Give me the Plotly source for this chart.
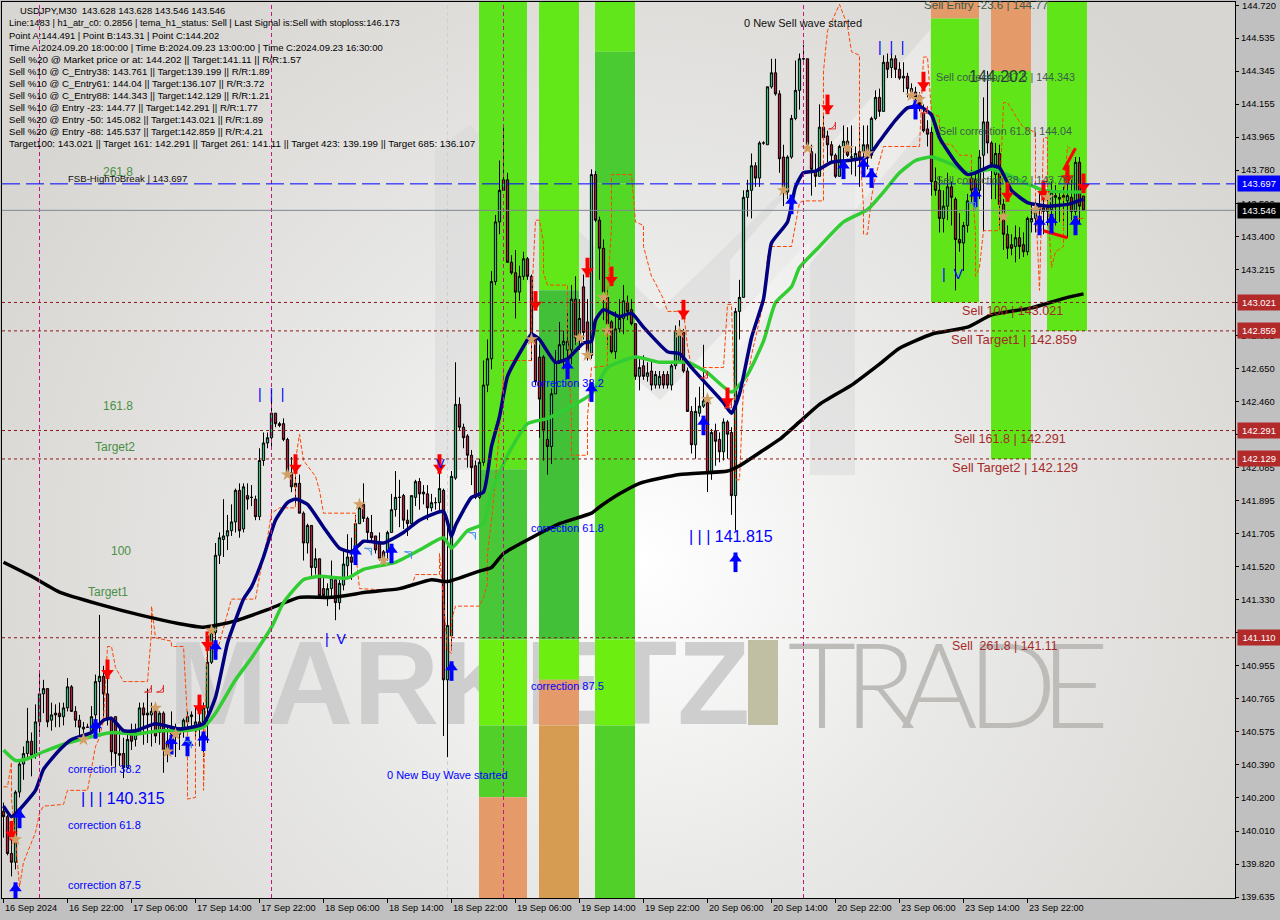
import base64
import plotly.graph_objects as go

opens = [140.12,140.09,139.88,139.83,140.23,140.39,140.45,140.52,140.44,140.63,
140.79,140.82,140.64,140.68,140.68,140.66,140.71,140.83,140.69,140.64,
140.59,140.60,140.58,140.67,140.86,140.89,140.79,140.65,140.66,140.45,
140.45,140.37,140.58,140.53,140.57,140.71,140.68,140.67,140.69,140.57,
140.68,140.52,140.56,140.60,140.58,140.58,140.63,140.66,140.60,140.63,
140.63,140.71,140.97,141.14,141.58,141.67,141.69,141.72,141.77,141.95,
141.73,141.92,141.91,141.90,141.80,142.12,142.22,142.25,142.39,142.33,
142.33,142.24,142.05,141.97,141.99,141.82,141.65,141.75,141.51,141.56,
141.39,141.34,141.39,141.44,141.31,141.41,141.52,141.57,141.54,141.76,
141.87,141.79,141.71,141.69,141.65,141.60,141.60,141.71,141.84,141.91,
141.92,141.78,141.76,141.91,142.00,141.94,141.93,141.85,141.88,141.88,
141.95,140.87,141.12,142.02,142.44,142.31,142.26,142.15,142.09,141.91,
142.11,142.55,142.70,143.14,143.48,143.66,143.72,143.25,143.19,143.08,
143.17,143.27,143.17,142.81,142.71,142.71,142.24,142.20,142.50,142.68,
142.78,142.75,142.75,143.04,142.82,143.11,142.91,142.72,143.75,143.49,
143.33,143.05,142.91,142.74,142.87,142.93,143.02,142.98,142.90,142.60,
142.66,142.60,142.63,142.55,142.55,142.61,142.61,142.55,142.66,142.69,
142.85,142.63,142.40,142.21,142.39,142.43,142.45,142.05,142.29,142.24,
142.17,142.34,142.28,141.92,142.97,143.05,143.62,143.66,143.80,143.73,
143.93,143.92,144.25,144.33,144.21,143.85,143.65,143.85,144.07,144.23,
144.41,144.41,143.88,143.77,143.74,144.02,143.97,143.92,143.86,143.74,
143.91,143.94,143.85,143.84,143.88,143.88,143.92,143.86,144.07,144.19,
144.11,144.39,144.36,144.41,144.35,144.30,144.31,144.24,144.22,144.20,
144.10,144.01,143.99,143.71,143.66,143.50,143.57,143.68,143.61,143.38,
143.36,143.46,143.73,143.72,143.66,143.86,144.05,143.93,143.75,143.87,
143.58,143.41,143.35,143.34,143.39,143.35,143.31,143.48,143.50,143.55,
143.56,143.54,143.55,143.62,143.61,143.62,143.60,143.62,143.54,143.82,
143.628]
highs = [140.17,140.10,139.96,140.24,140.41,140.49,140.71,140.57,140.73,140.91,
140.87,140.82,140.74,140.73,140.74,140.74,140.88,140.84,140.72,140.67,
140.63,140.62,140.72,140.90,141.24,140.95,140.94,140.66,140.66,140.60,
140.54,140.57,140.62,140.62,140.74,140.74,140.82,140.74,140.72,140.69,
140.69,140.61,140.69,140.62,140.60,140.65,140.69,140.69,140.71,140.74,
140.74,141.07,141.17,141.65,141.71,141.90,141.81,141.87,141.96,141.99,
141.99,141.99,141.98,141.92,142.19,142.28,142.28,142.47,142.39,142.34,
142.36,142.25,142.14,142.03,142.04,141.83,141.76,141.75,141.62,141.56,
141.45,141.42,141.55,141.45,141.44,141.61,141.70,141.68,141.81,141.90,
141.99,141.80,141.81,141.69,141.71,141.61,141.72,141.93,142.06,142.01,
141.93,141.84,141.92,142.01,142.02,141.98,141.98,141.93,141.91,142.06,
141.96,141.74,142.06,142.68,142.48,142.33,142.27,142.18,142.12,142.13,
142.69,142.81,143.20,143.52,143.83,144.03,143.76,143.29,143.32,143.23,
143.31,143.28,143.18,142.82,142.78,142.72,142.35,142.53,142.75,142.91,
142.86,142.98,143.12,143.17,143.04,143.18,143.04,143.78,143.77,143.51,
143.38,143.09,142.92,142.97,143.04,143.12,143.06,143.04,142.90,142.71,
142.72,142.68,142.69,142.63,142.63,142.63,142.63,142.67,142.89,142.92,
142.87,142.65,142.43,142.48,142.54,142.78,142.48,142.30,142.33,142.28,
142.36,142.35,142.31,142.99,143.15,143.66,143.72,143.87,143.82,143.94,
143.94,144.25,144.41,144.41,144.23,143.92,143.86,144.09,144.40,144.44,
144.49,144.41,143.92,143.87,144.15,144.10,144.00,143.94,143.87,143.92,
144.03,144.02,144.03,143.91,144.02,144.03,144.03,144.08,144.23,144.24,
144.43,144.44,144.44,144.43,144.39,144.39,144.33,144.27,144.25,144.22,
144.15,144.06,144.02,143.79,143.74,143.66,143.76,143.71,143.62,143.53,
143.48,143.64,143.78,143.77,143.89,144.19,144.34,143.94,143.93,143.92,
143.61,143.46,143.41,143.46,143.45,143.42,143.51,143.58,143.60,143.66,
143.63,143.63,143.71,143.69,143.66,143.68,143.70,143.72,143.85,143.85,
143.628]
lows = [139.97,139.87,139.75,139.79,140.20,140.30,140.43,140.32,140.42,140.57,
140.68,140.60,140.58,140.60,140.60,140.61,140.69,140.69,140.60,140.54,
140.54,140.60,140.57,140.61,140.57,140.66,140.61,140.38,140.37,140.38,
140.31,140.36,140.47,140.49,140.57,140.50,140.51,140.49,140.51,140.50,
140.34,140.40,140.49,140.43,140.47,140.54,140.57,140.60,140.53,140.49,
140.43,140.51,140.96,141.07,141.53,141.57,141.61,141.69,141.71,141.68,
141.71,141.84,141.86,141.78,141.78,142.09,142.19,142.18,142.31,142.31,
142.23,142.04,141.94,141.87,141.82,141.55,141.59,141.46,141.47,141.34,
141.33,141.29,141.34,141.21,141.27,141.38,141.46,141.44,141.54,141.76,
141.77,141.65,141.65,141.59,141.55,141.54,141.55,141.71,141.80,141.74,
141.73,141.69,141.74,141.86,141.84,141.87,141.78,141.83,141.84,141.83,
140.55,140.43,141.06,142.01,142.29,142.19,142.08,141.98,141.90,141.90,
142.09,142.51,142.64,143.12,143.41,143.66,143.25,143.18,142.93,143.03,
143.15,143.15,142.69,142.55,142.25,142.12,142.04,142.10,142.50,142.67,
142.64,142.69,142.67,142.78,142.75,142.81,142.69,142.70,143.48,143.15,
142.92,142.78,142.73,142.70,142.85,142.84,142.92,142.89,142.58,142.52,
142.58,142.57,142.52,142.53,142.53,142.53,142.53,142.52,142.64,142.68,
142.62,142.40,142.16,142.13,142.37,142.42,141.94,142.01,142.09,142.11,
142.12,142.13,141.81,141.72,142.81,143.05,143.51,143.50,143.68,143.68,
143.92,143.92,144.24,144.20,143.76,143.57,143.61,143.84,144.06,144.12,
144.40,143.91,143.63,143.68,143.74,143.96,143.82,143.82,143.73,143.74,
143.83,143.85,143.75,143.74,143.68,143.74,143.78,143.84,144.06,144.08,
144.11,144.30,144.30,144.30,144.29,144.22,144.19,144.19,144.13,144.11,
143.99,143.91,143.63,143.63,143.42,143.42,143.49,143.46,143.09,143.31,
143.20,143.42,143.59,143.58,143.61,143.43,143.87,143.61,143.61,143.46,
143.32,143.27,143.29,143.25,143.27,143.28,143.29,143.42,143.42,143.42,
143.41,143.46,143.42,143.46,143.48,143.46,143.39,143.49,143.52,143.48,
143.546]
closes = [140.09,139.88,139.83,140.23,140.39,140.45,140.52,140.44,140.63,140.79,
140.82,140.63,140.67,140.67,140.66,140.71,140.83,140.69,140.64,140.60,
140.60,140.60,140.66,140.86,140.89,140.79,140.65,140.46,140.45,140.44,
140.37,140.53,140.52,140.57,140.71,140.67,140.67,140.69,140.55,140.68,
140.47,140.47,140.60,140.57,140.56,140.64,140.66,140.67,140.63,140.60,
140.71,140.97,141.14,141.58,141.68,141.69,141.72,141.77,141.95,141.72,
141.97,141.90,141.91,141.80,142.12,142.22,142.25,142.39,142.33,142.32,
142.24,142.05,141.97,141.99,141.82,141.65,141.75,141.51,141.56,141.35,
141.35,141.39,141.45,141.31,141.42,141.53,141.57,141.54,141.76,141.85,
141.79,141.71,141.68,141.61,141.56,141.56,141.71,141.84,141.91,141.91,
141.78,141.76,141.92,142.00,141.93,141.93,141.85,141.88,141.88,141.96,
140.87,141.18,142.03,142.44,142.31,142.25,142.15,142.08,141.91,142.11,
142.55,142.70,143.14,143.48,143.66,143.72,143.25,143.19,143.08,143.17,
143.27,143.17,142.82,142.57,142.47,142.29,142.20,142.50,142.68,142.78,
142.80,142.80,143.04,142.82,142.93,142.85,142.73,143.75,143.49,143.33,
143.08,142.90,142.74,142.87,142.93,143.03,142.97,142.90,142.60,142.65,
142.60,142.62,142.55,142.61,142.60,142.55,142.55,142.66,142.86,142.85,
142.63,142.40,142.21,142.40,142.43,142.46,142.05,142.28,142.23,142.17,
142.34,142.27,141.92,142.97,143.05,143.62,143.66,143.80,143.73,143.93,
143.93,144.25,144.33,144.21,143.84,143.65,143.85,144.07,144.23,144.41,
144.41,143.92,143.78,143.74,144.02,143.96,143.92,143.86,143.74,143.91,
143.94,143.86,143.85,143.87,143.85,143.92,143.86,144.07,144.19,144.11,
144.39,144.35,144.41,144.35,144.30,144.31,144.24,144.22,144.19,144.15,
144.00,143.98,143.71,143.66,143.50,143.57,143.68,143.62,143.38,143.36,
143.46,143.60,143.66,143.66,143.85,144.05,143.93,143.81,143.87,143.58,
143.41,143.33,143.33,143.39,143.34,143.31,143.50,143.50,143.56,143.57,
143.54,143.56,143.65,143.63,143.62,143.63,143.63,143.54,143.82,143.57,
143.546]

black_x = [0,7,14,24,34,44,50,57,66,74,82,91,99,107,111,119,122,125,132,139,147,149,154,159,169,181,184,190,194,199,204,212,219,224,232,241,247,257,266,270]
black_y = [141.54,141.46,141.37,141.30,141.24,141.19,141.17,141.20,141.27,141.34,141.34,141.37,141.39,141.44,141.43,141.49,141.51,141.59,141.68,141.76,141.82,141.855,141.93,141.99,142.04,142.06,142.09,142.18,142.24,142.34,142.44,142.55,142.67,142.76,142.84,142.88,142.95,142.99,143.05,143.07]

green_x = [0,3,6,10,16,21,27,33,39,45,50,53,58,62,67,70,75,79,86,90,98,104,110,112,116,120,122,126,131,136,142,147,151,158,164,171,176,182,186,190,193,197,199,204,210,216,220,224,228,232,237,241,247,252,260,270]
green_y = [140.47,140.41,140.42,140.46,140.51,140.54,140.57,140.56,140.58,140.58,140.60,140.68,140.87,140.995,141.17,141.31,141.44,141.46,141.45,141.50,141.54,141.61,141.68,141.62,141.72,141.76,141.94,142.15,142.33,142.36,142.43,142.50,142.65,142.71,142.68,142.68,142.62,142.51,142.61,142.80,143.02,143.11,143.22,143.34,143.48,143.55,143.65,143.76,143.83,143.85,143.81,143.76,143.78,143.74,143.66,143.65]

navy_x = [0,2,4,8,10,14,17,22,25,27,30,33,38,44,50,53,56,58,60,62,65,68,71,73,76,80,84,87,90,95,100,104,110,112,113,117,120,122,124,126,130,132,134,138,141,145,147,148,150,154,157,160,166,169,172,176,180,182,184,187,190,191,192,196,198,200,203,207,211,216,219,223,226,229,232,234,238,241,243,247,249,252,256,261,266,270]
navy_y = [140.15,140.09,140.13,140.24,140.36,140.47,140.53,140.57,140.64,140.65,140.58,140.58,140.62,140.59,140.62,140.77,141.08,141.21,141.33,141.40,141.57,141.78,141.88,141.90,141.87,141.74,141.62,141.60,141.66,141.65,141.71,141.78,141.83,141.69,141.75,141.91,141.94,142.20,142.37,142.60,142.77,142.84,142.81,142.68,142.70,142.79,142.80,142.92,142.98,142.94,142.96,142.88,142.74,142.73,142.65,142.55,142.45,142.39,142.50,142.82,143.04,143.21,143.36,143.48,143.68,143.76,143.77,143.82,143.83,143.85,143.94,144.06,144.13,144.14,144.09,143.96,143.82,143.75,143.76,143.80,143.79,143.66,143.59,143.57,143.58,143.61]

stop_x = [0,1,2,2,3,4,5,8,9,10,15,16,21,23,24,25,26,27,28,30,36,37,37,38,42,42,45,46,46,48,48,50,50,51,53,57,63,64,66,67,69,73,73,74,75,78,79,80,88,88,89,97,102,103,109,109,111,112,112,113,119,120,121,121,122,123,125,125,132,132,133,134,135,135,136,141,141,142,142,146,146,147,151,151,152,152,157,158,160,160,162,163,165,166,170,171,172,180,181,182,183,183,184,185,186,187,190,191,192,197,199,200,205,205,206,209,211,212,214,214,215,215,216,217,218,220,229,230,231,232,234,234,237,239,242,242,243,243,244,245,245,249,249,250,251,254,255,258,258,259,260,261,261,262,263,265,265,266,268]
stop_y = [140.26,140.26,140.40,140.19,139.96,139.69,139.83,140.00,140.11,140.15,140.16,140.24,140.24,140.49,140.54,140.64,141.06,141.06,140.94,140.86,140.86,141.14,141.29,141.11,141.09,141.06,141.06,140.64,140.19,140.20,140.57,140.62,140.24,141.14,141.00,141.33,141.33,141.46,141.68,141.82,141.85,141.85,142.12,142.27,142.12,142.03,141.95,141.82,141.82,141.61,141.39,141.38,141.40,141.47,141.47,141.59,141.04,141.02,141.21,141.29,141.29,141.34,141.42,141.59,141.78,142.01,142.60,142.69,142.69,143.02,143.49,143.49,143.36,143.19,143.12,143.12,142.88,142.35,142.15,142.15,142.37,142.65,142.66,143.07,143.45,143.75,143.75,143.48,143.46,143.34,143.17,143.13,143.04,142.97,142.97,142.77,142.65,142.65,143.01,143.01,142.31,142.01,142.01,142.54,142.58,142.72,143.02,143.28,143.34,143.34,143.59,143.60,143.60,144.34,144.57,144.72,144.60,144.45,144.43,143.91,143.57,143.41,143.41,143.62,143.74,143.91,143.91,144.42,144.42,144.10,144.08,143.93,143.92,143.86,143.86,143.72,143.42,143.17,143.22,143.42,143.43,143.43,143.60,144.16,144.16,144.05,144.02,143.99,143.60,143.09,143.96,143.96,143.60,143.22,143.31,143.34,143.60,143.91,143.87]
stop2_x = [268,270]
stop2_y = [143.50,143.50]

red_x = [2,26,49,51,73,109,133,146,152,170,181,206,230,251,260,266,270]
red_y = [140.01,140.93,140.73,141.09,142.10,142.10,143.03,143.22,143.17,142.98,142.48,144.15,144.28,143.65,143.66,143.75,143.70]
blue_x = [3,4,23,42,46,50,53,88,97,112,141,147,175,183,197,210,215,217,228,243,259,262,268]
blue_y = [139.66,140.08,140.59,140.50,140.49,140.52,141.04,141.58,141.59,140.92,142.64,142.51,142.32,141.54,143.58,143.78,143.79,143.73,144.12,143.62,143.46,143.47,143.46]
star_x = [3,20,38,41,43,52,71,89,95,132,144,146,150,151,169,176,195,201,211,216,227,229,250,258,261]
star_y = [139.96,140.53,140.71,140.46,140.56,141.15,142.04,141.87,141.55,142.81,142.82,142.72,143.05,142.86,142.85,142.47,143.66,143.90,143.90,143.87,144.20,144.18,143.51,143.55,143.62]
hollow_red_x = [37,40,176,182,208,231]
hollow_red_y = [140.80,140.80,142.59,142.42,144.01,144.10]
hollow_blue_x = [47,92,102,118,243]
hollow_blue_y = [140.52,141.62,141.60,141.71,143.59]
wedge_upper_x = [265,268]
wedge_upper_y = [143.776,143.90]
wedge_lower_x = [260,266]
wedge_lower_y = [143.43,143.39]

x_tick_bars = [0,16,32,48,64,80,96,112,128,144,160,176,192,208,224,240,256]
x_tick_labels = ["16 Sep 2024","16 Sep 22:00","17 Sep 06:00","17 Sep 14:00","17 Sep 22:00","18 Sep 06:00","18 Sep 14:00","18 Sep 22:00","19 Sep 06:00","19 Sep 14:00","19 Sep 22:00","20 Sep 06:00","20 Sep 14:00","20 Sep 22:00","23 Sep 06:00","23 Sep 14:00","23 Sep 22:00"]
y_tick_labels = ["144.720","144.535","144.345","144.155","143.965","143.780","143.590","143.400","143.215","143.025","142.835","142.650","142.460","142.270","142.085","141.895","141.705","141.520","141.330","141.140","140.955","140.765","140.575","140.390","140.200","140.010","139.820","139.635"]

level_prices = [143.021,142.859,142.291,142.129,141.110]
fsb_level = 143.697
last_price = 143.546
vline_bars = [9,67,125,200]
gray_vline_bar = 111

# zone segments: start bar, end bar, low price, high price, colour
zone_start = [118.875]*5 + [133.875]*5 + [147.875]*5 + [231.875]*2 + [246.875]*2 + [260.875]
zone_end = [130.875]*5 + [143.875]*5 + [157.875]*5 + [243.875]*2 + [256.875]*2 + [270.875]
zone_low = [142.07,141.10,140.61,140.20,139.6, 143.09,141.10,140.87,140.61,139.6, 144.45,143.70,141.10,140.61,139.6, 144.64,143.021, 144.34,142.129, 142.859]
zone_high = [144.8,142.07,141.10,140.61,140.20, 144.8,143.09,141.10,140.87,140.61, 144.8,144.45,143.70,141.10,140.61, 144.8,144.64, 144.8,144.34, 144.8]
zone_color = ["#5ee41c","#48c838","#6cee10","#50d028","#e59a6a",
              "#62e818","#42c038","#6cee10","#e59a6a","#d69c52",
              "#60e61a","#4acb32","#54d826","#6cee10","#50d028",
              "#e59a6a","#60e618","#e59a6a","#60e618","#60e618"]

info_lines = ["Line:1483 | h1_atr_c0: 0.2856 | tema_h1_status: Sell | Last Signal is:Sell with stoploss:146.173",
"Point A:144.491 | Point B:143.31 | Point C:144.202",
"Time A:2024.09.20 18:00:00 | Time B:2024.09.23 13:00:00 | Time C:2024.09.23 16:30:00",
"Sell %20 @ Market price or at: 144.202 || Target:141.11 || R/R:1.57",
"Sell %10 @ C_Entry38: 143.761 || Target:139.199 || R/R:1.89",
"Sell %10 @ C_Entry61: 144.04 || Target:136.107 || R/R:3.72",
"Sell %10 @ C_Entry88: 144.343 || Target:142.129 || R/R:1.21",
"Sell %10 @ Entry -23: 144.77 || Target:142.291 || R/R:1.77",
"Sell %20 @ Entry -50: 145.082 || Target:143.021 || R/R:1.89",
"Sell %20 @ Entry -88: 145.537 || Target:142.859 || R/R:4.21",
"Target100: 143.021 || Target 161: 142.291 || Target 261: 141.11 || Target 423: 139.199 || Target 685: 136.107"]
info_sizes = [9.3, 9.4, 9.5, 9.9, 9.6, 9.6, 9.6, 9.6, 9.6, 9.6, 9.75]

FONT = "Liberation Sans"
PX_L, PX_R, PX_T, PX_B = 2, 1235, 2, 898
def bar_of(px): return (px - 3.5) / 4
def price_of(py): return 144.745 - 0.0057 * py
def px_x(px): return (px - PX_L) / (PX_R - PX_L)
def px_y(py): return 1 - (py - PX_T) / (PX_B - PX_T)

anns = []
def label(text, px, py, size=11, color="#000000", anchor="center", family=FONT):
    anns.append(dict(text=text, x=px_x(px), y=px_y(py), xref="paper", yref="paper", showarrow=False,
                     xanchor=anchor, yanchor="middle", font=dict(size=size, color=color, family=family)))

label("USDJPY,M30  143.628 143.628 143.546 143.546", 18, 10.5, 9.4, anchor="left")
for k, (line_text, s) in enumerate(zip(info_lines, info_sizes)):
    label(line_text, 7, 23.5 + 12 * k, s, anchor="left")

G = "#4a8f46"
label("261.8", 118, 172, 12, G); label("161.8", 118, 406, 12, G)
label("Target2", 115, 447, 12, G); label("100", 121, 551, 12, G); label("Target1", 108, 592, 12, G)
label("FSB-HighToBreak | 143.697", 127, 179, 9.6, "#101010")
label("0 New Sell wave started", 803, 23, 11, "#101010")
B = "#0000ff"
label("0 New Buy Wave started", 447, 775, 11, B)
label("correction 38.2", 104, 769, 11, B); label("correction 61.8", 104, 825, 11, B); label("correction 87.5", 104, 885, 11, B)
label("| | | 140.315", 123, 798, 16, B)
label("correction 38.2", 567, 383, 11, B); label("correction 61.8", 567, 528, 11, B); label("correction 87.5", 567, 686, 11, B)
label("| | | 141.815", 731, 536, 16, B)
label("|  |  |", 271, 394, 14, B); label("|  V", 335, 639, 14, B); label("|  |  |", 891, 47, 14, B); label("|  V", 953, 274, 14, B)
label("V", 440, 463, 13, B)
S = "#3b5b4b"
label("Sell Entry -23.6 | 144.77", 986, 4, 11.6, S)
label("144.202", 998, 77, 16, "#2b3b33")
label("Sell correction 87.5 | 144.343", 1005, 77, 10.7, S)
label("Sell correction 61.8 | 144.04", 1005, 131, 10.7, S)
label("Sell correction 38.2 | 143.761", 1005, 180, 10.7, S)
R = "#a52a2a"
label("Sell 100 | 143.021", 1012, 311, 12.6, R)
label("Sell Target1 | 142.859", 1014, 339, 13, R)
label("Sell 161.8 | 142.291", 1010, 439, 12.6, R)
label("Sell Target2 | 142.129", 1015, 467, 13, R)
label("Sell  261.8 | 141.11", 1005, 646, 12.4, R)
# the topmost scale label would be dropped by the axis, so it is placed by hand
label(y_tick_labels[0], 1240, 5.5, 9.4, anchor="left")

# x tick labels begin at their tick
for b, t in zip(x_tick_bars, x_tick_labels):
    anns.append(dict(text=t, x=b, y=0, xref="x", yref="paper", showarrow=False, xanchor="left", yanchor="top",
                     yshift=-3, xshift=-1, font=dict(size=9.2, color="#000000", family=FONT)))

def price_box(price, bg):
    anns.append(dict(text=f"{price:.3f}", x=1.0016, y=price, xref="paper", yref="y", showarrow=False, xanchor="left",
                     yanchor="middle", bgcolor=bg, width=40, height=13, borderpad=1, align="center",
                     font=dict(size=9.4, color="#ffffff", family=FONT)))
for p in level_prices:
    price_box(p, "#b22a2a")
price_box(fsb_level, "#0000ff")
price_box(last_price, "#000000")

shapes = []
for b in vline_bars:
    shapes.append(dict(type="line", x0=b, x1=b, y0=0, y1=1, xref="x", yref="paper", layer="above",
                       line=dict(color="#c71585", width=1, dash="4px,3px")))
shapes.append(dict(type="line", x0=gray_vline_bar, x1=gray_vline_bar, y0=0, y1=1, xref="x", yref="paper", layer="below",
                   line=dict(color="#d0d0d0", width=1, dash="4px,3px")))
for p in level_prices:
    shapes.append(dict(type="line", x0=0, x1=1, y0=p, y1=p, xref="paper", yref="y",
                       line=dict(color="#8b1a1a", width=1, dash="3px,3px")))
shapes.append(dict(type="line", x0=0, x1=1, y0=fsb_level, y1=fsb_level, xref="paper", yref="y",
                   line=dict(color="#0000ff", width=1, dash="18px,6px")))
shapes.append(dict(type="line", x0=0, x1=1, y0=last_price, y1=last_price, xref="paper", yref="y",
                   line=dict(color="#7f8790", width=1)))

svg = '''<svg xmlns="http://www.w3.org/2000/svg" width="1233" height="896" viewBox="2 2 1233 896">
<defs><radialGradient id="g" gradientUnits="userSpaceOnUse" cx="640" cy="560" r="720">
<stop offset="0" stop-color="#ffffff"/><stop offset="0.45" stop-color="#e9e9e8"/><stop offset="1" stop-color="#d8d6d2"/></radialGradient></defs>
<rect x="0" y="0" width="1240" height="900" fill="url(#g)"/>
<polygon points="435,150 470,125 660,310 810,165 855,125 855,475 810,475 810,240 660,400 480,240 480,470 435,470" fill="#d4d4d4" opacity="0.45"/>
<polygon points="730,260 930,30 930,120 730,360" fill="#ffffff" opacity="0.35"/>
</svg>'''
bg_uri = "data:image/svg+xml;base64," + base64.b64encode(svg.encode()).decode()

fig = go.Figure()

# watermark words, below everything because bars draw first
fig.add_trace(go.Bar(x=[bar_of(459)], width=[bar_of(745) - bar_of(173)], base=[price_of(725)], y=[price_of(640) - price_of(725)],
                     text=["MARKETZ"], textposition="inside", insidetextanchor="middle", constraintext="none", textangle=0,
                     textfont=dict(family="Liberation Sans", size=119, color="#cecece", weight="bold"),
                     marker=dict(color="rgba(0,0,0,0)", line=dict(width=0)), hoverinfo="skip", showlegend=False))
trade_px = [822, 880, 939, 1012, 1075]
fig.add_trace(go.Bar(x=[bar_of(p) for p in trade_px], width=[20] * 5, base=[price_of(725)] * 5, y=[price_of(640) - price_of(725)] * 5,
                     text=list("TRADE"), textposition="inside", insidetextanchor="middle", constraintext="none", textangle=0,
                     textfont=dict(family="Lato", size=118, color="#bdbcb9", weight=300),
                     marker=dict(color="rgba(0,0,0,0)", line=dict(width=0)), hoverinfo="skip", showlegend=False))
fig.add_trace(go.Bar(x=[bar_of(763)], width=[7.5], base=[price_of(725)], y=[price_of(640) - price_of(725)],
                     marker=dict(color="#c0bfa4", line=dict(width=0)), hoverinfo="skip", showlegend=False))
fig.add_trace(go.Bar(x=[(a + b) / 2 for a, b in zip(zone_start, zone_end)],
                     width=[b - a for a, b in zip(zone_start, zone_end)],
                     base=zone_low, y=[h - l for h, l in zip(zone_high, zone_low)],
                     marker=dict(color=zone_color, line=dict(width=0)), hoverinfo="skip", showlegend=False))

fig.add_trace(go.Candlestick(x=list(range(len(opens))), open=opens, high=highs, low=lows, close=closes, whiskerwidth=0,
                             increasing=dict(line=dict(color="#000000", width=1), fillcolor="#35c07d"),
                             decreasing=dict(line=dict(color="#000000", width=1), fillcolor="#b01e3c"),
                             hoverinfo="skip", showlegend=False))

def line(x, y, color, width, dash=None, smooth=False):
    style = dict(color=color, width=width, dash=dash)
    if smooth:
        style.update(shape="spline", smoothing=0.5)
    fig.add_trace(go.Scatter(x=x, y=y, mode="lines", line=style, hoverinfo="skip", showlegend=False))

line(stop_x, stop_y, "#ff4500", 1, "4px,2px")
line(stop2_x, stop2_y, "#ff4500", 1)
line(black_x, black_y, "#000000", 3.5, smooth=True)
line(green_x, green_y, "#32cd32", 3.5, smooth=True)
line(navy_x, navy_y, "#000080", 3.5, smooth=True)
line(wedge_upper_x, wedge_upper_y, "#ff0000", 3)
line(wedge_lower_x, wedge_lower_y, "#ff0000", 3)

def pts(x, y, symbol, color, size, angle=0, lw=0):
    fig.add_trace(go.Scatter(x=x, y=y, mode="markers", hoverinfo="skip", showlegend=False,
                             marker=dict(symbol=symbol, color=color, size=size, angle=angle, line=dict(color=color, width=lw))))

HEAD_OFFSET = 0.02
pts(red_x, red_y, "line-ns", "#ff0000", 14, lw=4)
pts(red_x, [v - HEAD_OFFSET for v in red_y], "triangle-down", "#ff0000", 11)
pts(blue_x, blue_y, "line-ns", "#0000ff", 14, lw=4)
pts(blue_x, [v + HEAD_OFFSET for v in blue_y], "triangle-up", "#0000ff", 11)
pts(star_x, star_y, "star", "#d2a064", 10)
pts(hollow_red_x, hollow_red_y, "arrow-wide-open", "#e03030", 7, angle=135, lw=1)
pts(hollow_blue_x, hollow_blue_y, "arrow-wide-open", "#4a90e2", 7, angle=45, lw=1)

y_tick_positions = [price_of(5 + 33.04 * k) for k in range(len(y_tick_labels))]

fig.update_layout(
    width=1280, height=920, autosize=False,
    margin=dict(l=PX_L, r=1280 - PX_R, t=PX_T, b=920 - PX_B, pad=0),
    paper_bgcolor="#c0c0c0", plot_bgcolor="#e4e4e2",
    barmode="overlay", boxgap=0.2, showlegend=False, dragmode=False,
    font=dict(family=FONT, size=10, color="#000000"),
    annotations=anns, shapes=shapes,
    images=[dict(source=bg_uri, xref="paper", yref="paper", x=0, y=1, sizex=1, sizey=1, xanchor="left", yanchor="top",
                 sizing="stretch", layer="below")],
    xaxis=dict(range=[bar_of(PX_L), bar_of(PX_R)], tickmode="array", tickvals=x_tick_bars, showticklabels=False,
               ticks="outside", ticklen=4, tickcolor="#000000", showgrid=False, zeroline=False, showline=True,
               linecolor="#000000", linewidth=1, mirror=True, rangeslider=dict(visible=False)),
    yaxis=dict(range=[price_of(PX_B), price_of(PX_T)], side="right", tickmode="array",
               tickvals=y_tick_positions, ticktext=[""] + y_tick_labels[1:], ticks="outside", ticklen=3,
               tickcolor="#000000", tickfont=dict(size=9.4, color="#000000", family=FONT), showgrid=False, zeroline=False,
               showline=True, linecolor="#000000", linewidth=1, mirror=True),
)
fig.write_html("out.html", post_script="document.body.style.margin='0';", config=dict(displayModeBar=False))
